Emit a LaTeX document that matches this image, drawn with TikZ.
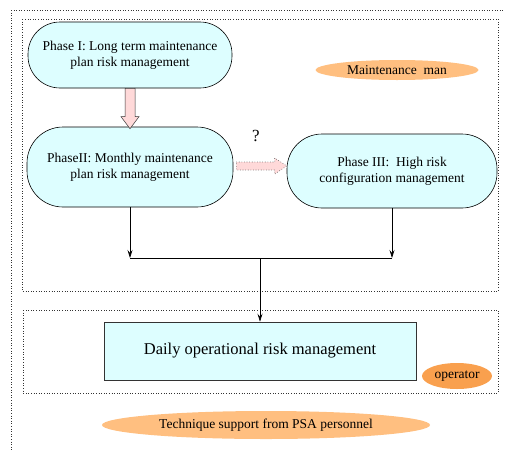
\documentclass[tikz,border=0pt]{standalone}
\usepackage{fontspec}
\setmainfont{Liberation Serif}
\usetikzlibrary{calc,arrows.meta,shapes.geometric}
\definecolor{boxfill}{HTML}{DDFEFF}
\definecolor{pinkfill}{HTML}{FFD9D9}
\definecolor{roleA}{HTML}{FFBF80}
\definecolor{roleB}{HTML}{F9A04E}
\tikzset{
  frame/.style={draw=black!80, dotted, line width=0.6pt},
  phasebox/.style={draw=black, line width=0.6pt, fill=boxfill, rounded corners=32pt,
    align=center, font=\fontsize{13.5}{16}\selectfont, inner sep=0pt},
  dailybox/.style={draw=black!80, line width=0.6pt, fill=boxfill,
    font=\fontsize{16.5}{19}\selectfont, inner sep=0pt},
  role/.style={ellipse, inner sep=0pt, font=\fontsize{13.5}{15}\selectfont},
  flow/.style={draw=black, line width=0.7pt},
  tip/.style={-{Stealth[length=8pt,width=5pt,inset=3pt]}},
}
\begin{document}
\begin{tikzpicture}[x=1pt,y=-1pt]
\useasboundingbox (0,0) rectangle (505,450);
% outer frame (top and left edges)
\draw[frame] (11,10) -- (505,10);
\draw[frame] (11,10) -- (11,450);
% maintenance and operator regions
\draw[frame] (22,19) rectangle (498,291);
\draw[frame] (23,310) rectangle (498,393);

\node[phasebox, minimum width=204pt, minimum height=66pt] (p1) at (130,55)
  {Phase I: Long term maintenance\\plan risk management};
\node[phasebox, rounded corners=36pt, minimum width=206pt, minimum height=80pt] (p2) at (130,167)
  {PhaseII: Monthly maintenance\\plan risk management};
\node[phasebox, rounded corners=35pt, minimum width=210pt, minimum height=74pt] (p3) at (392,171)
  {Phase III:\ \ High risk\\configuration management};
\node[dailybox, minimum width=312pt, minimum height=58pt] (daily) at (260,351)
  {Daily operational risk management};

\node[role, fill=roleA, minimum width=163pt, minimum height=20pt] (mm) at (397,70)
  {Maintenance\ \ man};
\node[role, fill=roleB, minimum width=70pt, minimum height=26pt] (op) at (457,376)
  {operator};
\node[role, fill=roleA, minimum width=328pt, minimum height=28pt] (psa) at (266,425)
  {Technique support from PSA personnel};

% fat arrow from Phase I to Phase II
\draw[fill=pinkfill, draw=black!80, line width=0.5pt]
  ($(p1.south)+(-5,0)$) -- ($(p1.south)+(5,0)$) -- ($(p2.north)+(5,-10)$)
  -- ($(p2.north)+(9,-10)$) -- ($(p2.north)+(0,2)$) -- ($(p2.north)+(-9,-10)$)
  -- ($(p2.north)+(-5,-10)$) -- cycle;

% uncertain link from Phase II to Phase III
\coordinate (qa) at ($(p2.east)+(3,0)$);
\coordinate (qb) at ($(p3.west)+(0,-5)$);
\draw[fill=pinkfill, draw=black!70, dotted, line width=0.6pt]
  (qa |- 0,162) -- ($(qb)+(-12,-4)$) -- ($(qb)+(-12,-8)$) -- (qb)
  -- ($(qb)+(-12,8)$) -- ($(qb)+(-12,4)$) -- (qa |- 0,170) -- cycle;
\node[font=\fontsize{17}{18}\selectfont] (q) at (256,136) {?};

% merge of Phase II and Phase III into daily management
\coordinate (jl) at (p2.south |- 0,258);
\coordinate (jr) at (p3.south |- 0,258);
\coordinate (jm) at (daily.north |- 0,258);
\draw[flow, tip] (p2.south) -- (jl);
\draw[flow, tip] (p3.south) -- (jr);
\draw[flow] (jl) -- (jr);
\draw[flow, tip] (jm) -- (daily.north);
\end{tikzpicture}
\end{document}
